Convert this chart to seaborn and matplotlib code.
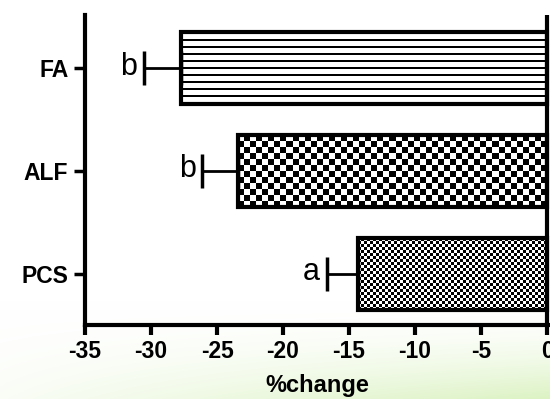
import numpy as np
import pandas as pd
import seaborn as sns
import matplotlib
matplotlib.use("Agg")
import matplotlib.pyplot as plt

groups = ["FA", "ALF", "PCS"]
change = [-27.7, -23.4, -14.3]
err = [2.8, 2.7, 2.4]
letters = ["b", "b", "a"]
xticks = [-35, -30, -25, -20, -15, -10, -5, 0]
# fill pattern per bar: (kind, period in px)
patterns = [("stripes", 7), ("checker", 6), ("checker", 3)]

sns.set_style("ticks")
plt.rcParams["font.family"] = ["Liberation Sans", "DejaVu Sans"]
plt.rcParams["text.color"] = "black"
plt.rcParams["axes.labelcolor"] = "black"
plt.rcParams["xtick.color"] = "black"
plt.rcParams["ytick.color"] = "black"

W, H = 550, 399
fig = plt.figure(figsize=(W / 100, H / 100), dpi=100)

# soft green wash in the lower right corner
bg = fig.add_axes([0, 0, 1, 1], zorder=-10)
yy, xx = np.mgrid[0:H, 0:W]
w = np.clip((yy - 300) / 99, 0, 1) ** 1.8 * (0.15 + 0.85 * xx / W)
white = np.array([1.0, 1.0, 1.0])
green = np.array([0.86, 0.95, 0.76])
img = white * (1 - w[..., None]) + green * w[..., None]
bg.imshow(img, aspect="auto", extent=(0, 1, 0, 1))
bg.set_axis_off()

ax = fig.add_axes([85 / W, 1 - 325 / H, 465 / W, 310 / H])
ax.patch.set_alpha(0)

df = pd.DataFrame({"group": groups, "change": change})
sns.barplot(df, x="change", y="group", order=groups, color="white",
            edgecolor="black", linewidth=3, width=0.7, ax=ax, zorder=3)

ax.set_xlim(-35, 0.227)
ax.set_ylim(2.5, -0.515)

# pixel scale of the data
p0 = ax.transData.transform((0, 0))
p1 = ax.transData.transform((1, 1))
px_x, px_y = abs(p1[0] - p0[0]), abs(p1[1] - p0[1])

for patch, (kind, period) in zip(ax.patches, patterns):
    patch.set_facecolor("none")
    x0, y0 = patch.get_x(), patch.get_y()
    bw, bh = patch.get_width(), patch.get_height()
    nx = max(1, int(round(abs(bw) * px_x / period)))
    ny = max(1, int(round(abs(bh) * px_y / period)))
    if kind == "checker":
        ii, jj = np.indices((ny, nx))
        pat = ((ii + jj) % 2).astype(float)
    else:
        rows = int(round(abs(bh) * px_y))
        pat = ((np.arange(rows) % period) < 2).astype(float)[:, None] * np.ones((1, 4))
    im = ax.imshow(pat, cmap="gray_r", vmin=0, vmax=1, interpolation="nearest",
                   extent=(x0, x0 + bw, y0 + bh, y0), aspect="auto", zorder=2)
    im.set_clip_path(patch)

ax.set_xlim(-35, 0.227)
ax.set_ylim(2.5, -0.515)

pos = np.arange(len(groups))
ax.errorbar(change, pos, xerr=[err, np.zeros(len(err))], fmt="none",
            ecolor="black", elinewidth=2, capsize=12, capthick=2.5, zorder=4)

for i, (c, e, l) in enumerate(zip(change, err, letters)):
    ax.annotate(l, (c - e, i), xytext=(-5, 1), textcoords="offset points",
                ha="right", va="center", fontsize=22)

ax.axvline(0, color="black", linewidth=3, zorder=5)

sns.despine(ax=ax, top=True, right=True)
for s in ["left", "bottom"]:
    ax.spines[s].set_linewidth(3)
    ax.spines[s].set_color("black")
ax.set_xticks(xticks)
ax.set_xticklabels([str(t) for t in xticks], fontsize=16.5, fontweight="bold")
ax.set_yticks(pos)
ax.set_yticklabels(groups, fontsize=16.5, fontweight="bold")
ax.tick_params(axis="x", length=7, width=3, pad=4)
ax.tick_params(axis="y", length=8, width=2.5, pad=4)
ax.set_xlabel("%change", fontsize=17, fontweight="bold", labelpad=8)
ax.set_ylabel("")

fig.savefig("out.png", dpi=100)
